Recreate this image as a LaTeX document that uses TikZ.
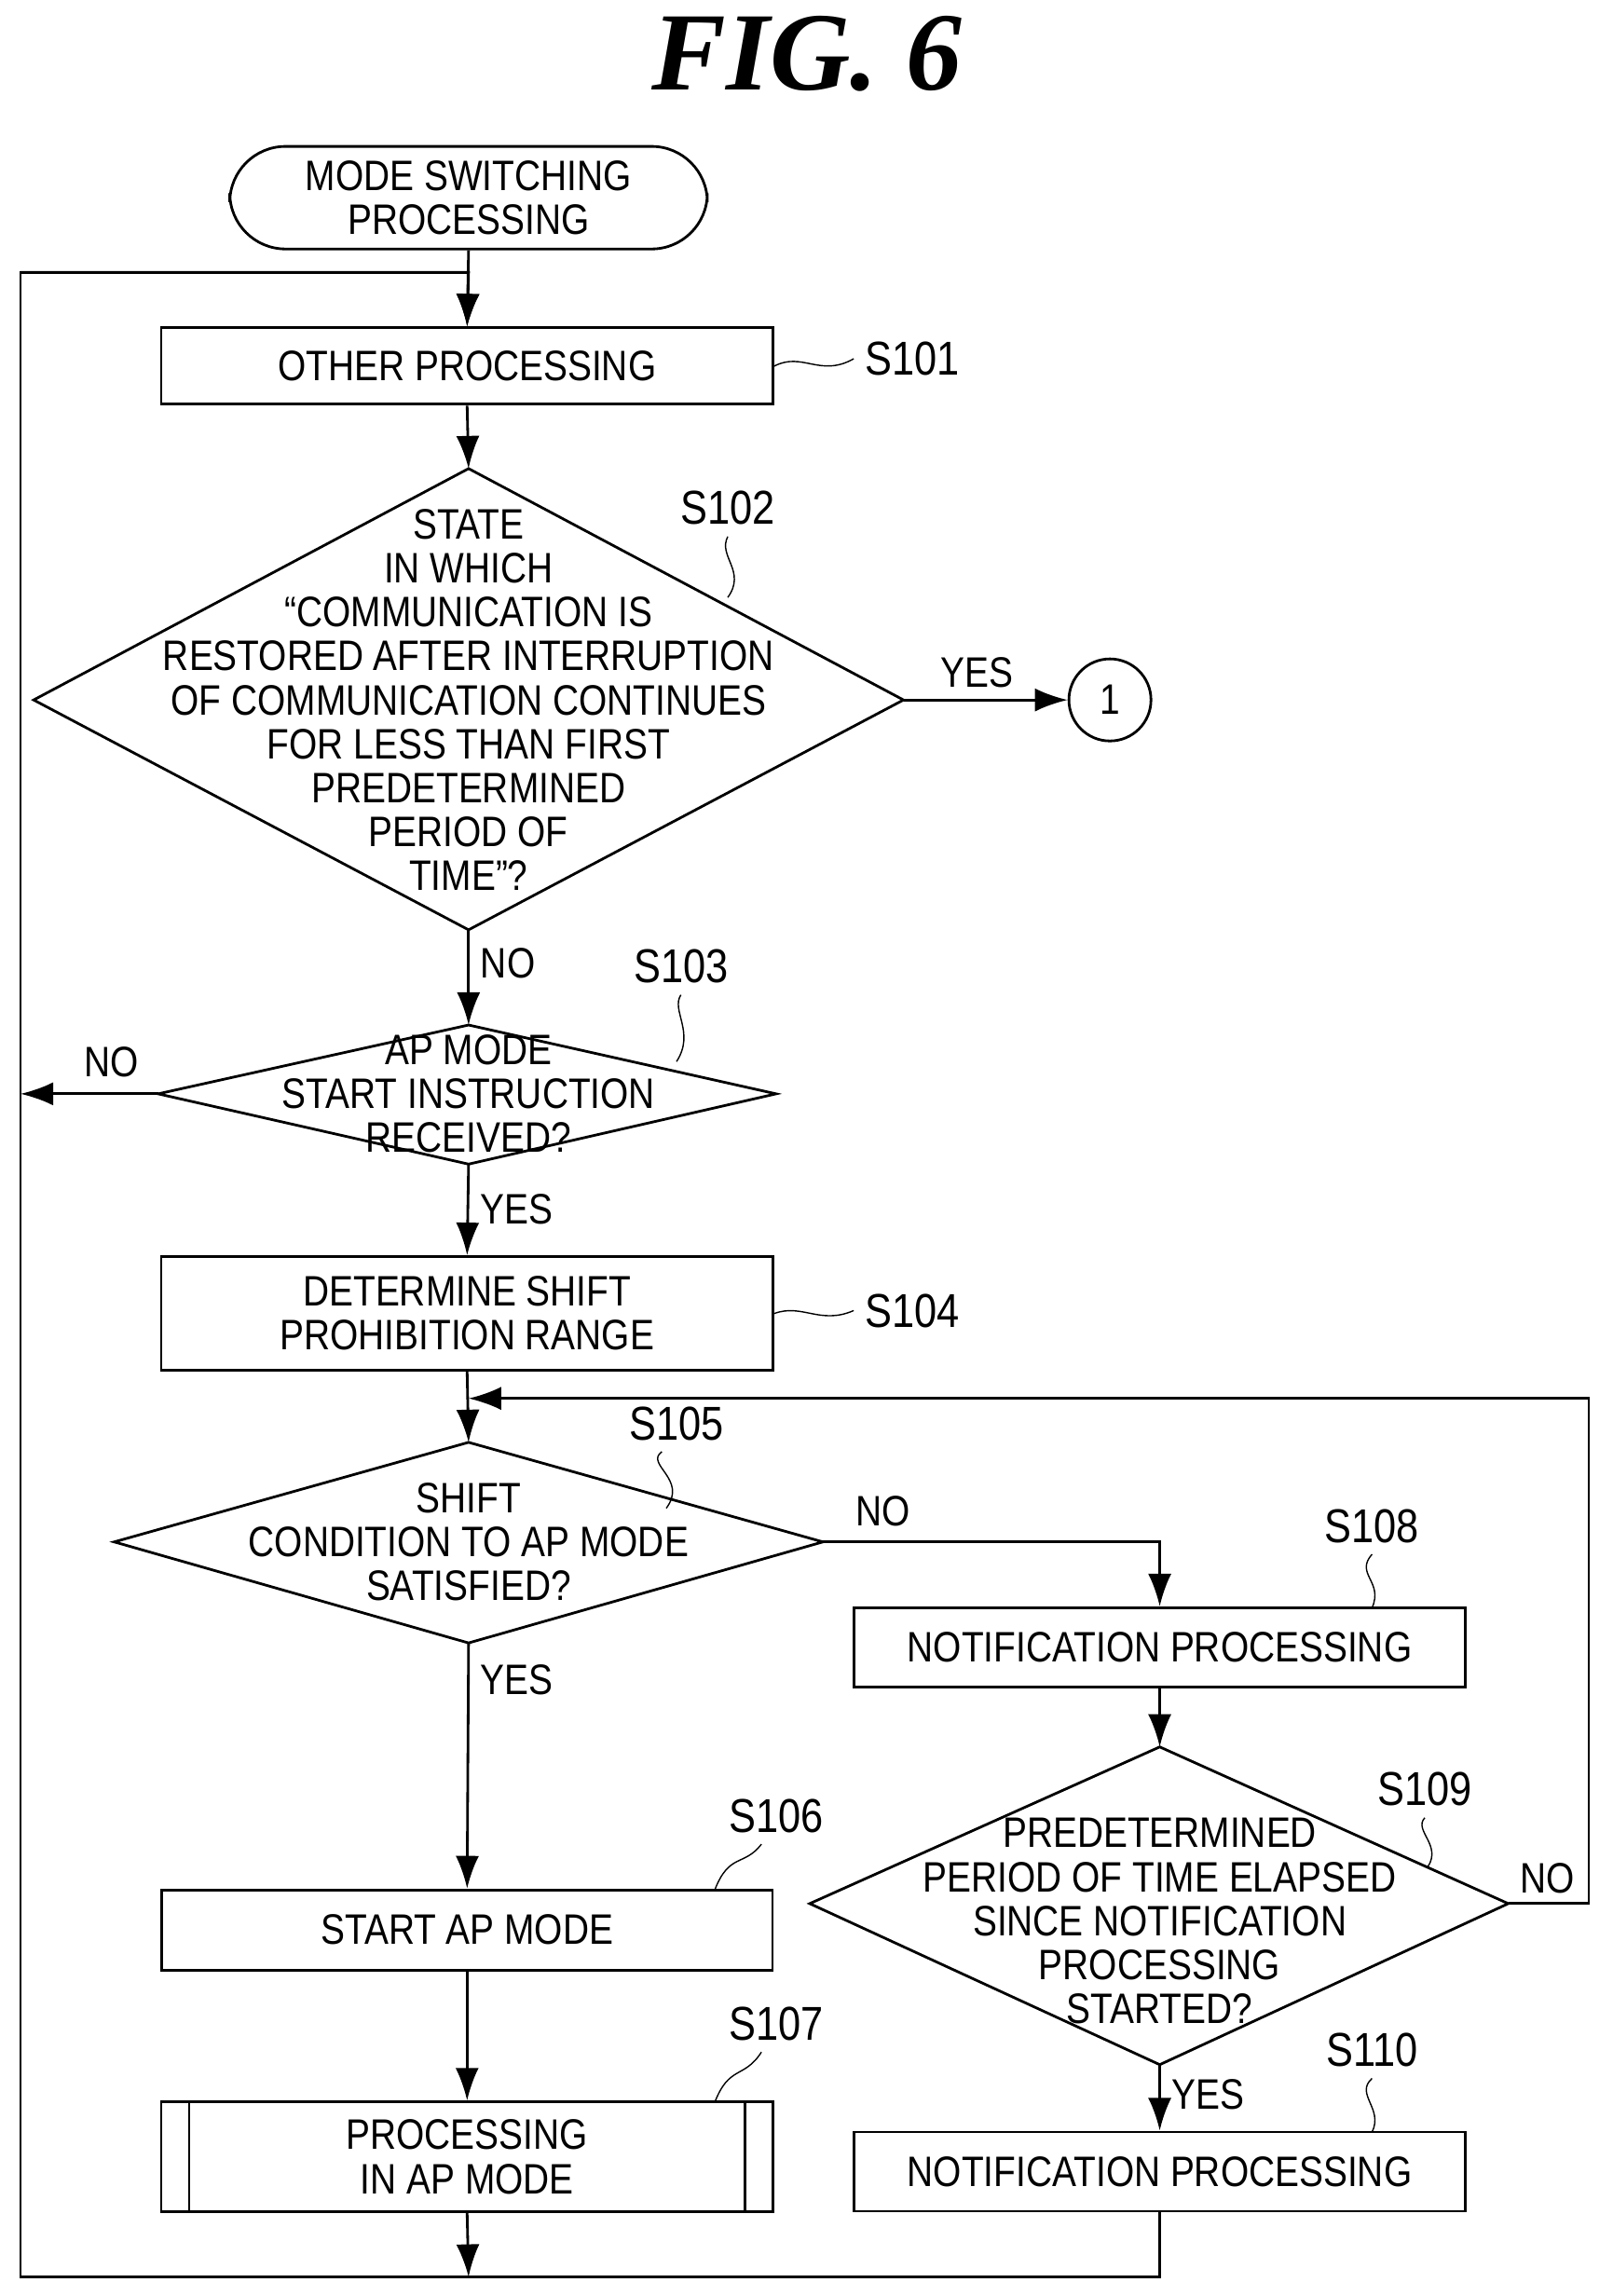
\documentclass[tikz,border=0pt]{standalone}
\usepackage{fontspec}
\setmainfont{Liberation Sans}[FakeStretch=0.85]
\newfontfamily\titlefont{Liberation Serif}
\usetikzlibrary{arrows.meta, positioning, calc, shapes.geometric}

\begin{document}
\begin{tikzpicture}[
  x=0.015695cm, y=-0.015695cm,
  font=\fontsize{13}{13.4}\selectfont,
  box/.style = {draw, thick, align=center, inner sep=0pt},
  arrow/.style = {thick, -{Latex[length=3.5mm, width=2.5mm]}},
  line/.style = {thick},
  tag/.style = {font=\fontsize{14.5}{15}\selectfont},
  squig/.style = {thin}
]
  \useasboundingbox (0,0) rectangle (1101,1568);

  % Title
  \node[font=\titlefont\bfseries\itshape\fontsize{34}{36}\selectfont] (title) at (551,37) {FIG. 6};

  % Start
  \node[draw, thick, rounded corners=17pt, minimum width=5.12cm, minimum height=1.1cm, align=center] (start) at (320,135) {MODE SWITCHING\\PROCESSING};

  % Steps
  \node[box, minimum width=6.56cm, minimum height=0.82cm] (s101) at (319,250) {OTHER PROCESSING};
  \draw[thick] (23,478) -- (320,320) -- (617,478) -- (320,635) -- cycle;
  \node[align=center] (s102) at (320,478) {STATE\\IN WHICH\\``COMMUNICATION IS\\RESTORED AFTER INTERRUPTION\\OF COMMUNICATION CONTINUES\\FOR LESS THAN FIRST\\PREDETERMINED\\PERIOD OF\\TIME''?};
  \node[draw, thick, circle, minimum size=0.88cm, inner sep=0pt] (c1) at (758,478) {1};

  \draw[thick] (108,747) -- (320,700) -- (530,747) -- (320,795) -- cycle;
  \node[align=center] (s103) at (320,747) {AP MODE\\START INSTRUCTION\\RECEIVED?};

  \node[box, minimum width=6.56cm, minimum height=1.22cm] (s104) at (319,897) {DETERMINE SHIFT\\PROHIBITION RANGE};

  \draw[thick] (78,1053) -- (320,985) -- (562,1053) -- (320,1122) -- cycle;
  \node[align=center] (s105) at (320,1053) {SHIFT\\CONDITION TO AP MODE\\SATISFIED?};

  \node[box, minimum width=6.55cm, minimum height=0.86cm] (s106) at (319,1318) {START AP MODE};
  \node[box, minimum width=6.56cm, minimum height=1.18cm] (s107) at (319,1473) {PROCESSING\\IN AP MODE};
  \draw[line] ($(s107.north west)+(20,0)$) -- ($(s107.south west)+(20,0)$);
  \draw[line] ($(s107.north east)+(-20,0)$) -- ($(s107.south east)+(-20,0)$);

  \node[box, minimum width=6.55cm, minimum height=0.85cm] (s108) at (792,1125) {NOTIFICATION PROCESSING};
  \draw[thick] (553,1300) -- (792,1193) -- (1030,1300) -- (792,1410) -- cycle;
  \node[align=center] (s109) at (792,1312) {PREDETERMINED\\PERIOD OF TIME ELAPSED\\SINCE NOTIFICATION\\PROCESSING\\STARTED?};
  \node[box, minimum width=6.55cm, minimum height=0.85cm] (s110) at (792,1483) {NOTIFICATION PROCESSING};

  % Junctions
  \coordinate (top) at (320,186);
  \coordinate (lefttop) at (14,186);
  \coordinate (leftbot) at (14,1555);
  \coordinate (bot) at (320,1555);
  \coordinate (join) at (320,955);
  \coordinate (s102b) at (320,635);
  \coordinate (s103l) at (108,747);
  \coordinate (s105r) at (562,1053);
  \coordinate (s109r) at (1030,1300);
  \coordinate (s109b) at (792,1410);

  % Connectors
  \draw[arrow] (start.south) -- (s101.north);
  \draw[arrow] (s101.south) -- (320,320);
  \draw[arrow] (617,478) -- node[above, pos=0.45] {YES} (c1.west);
  \draw[arrow] (s102b) -- node[right, pos=0.35] {NO} (320,700);
  \draw[arrow] (s103l) -- (14,747);
  \node (no103) at (76,725) {NO};
  \draw[arrow] (320,795) -- node[right, pos=0.5] {YES} (s104.north);
  \draw[arrow] (s104.south) -- (320,985);
  \draw[arrow] (320,1122) -- node[right, pos=0.15] {YES} (s106.north);
  \draw[arrow] (s106.south) -- (s107.north);
  \draw[arrow] (s107.south) -- (bot);
  \draw[arrow] (s105r) -| (s108.north);
  \node (no105) at (603,1032) {NO};
  \draw[arrow] (s108.south) -- (792,1193);
  \draw[arrow] (s109b) -- node[right, pos=0.45] {YES} (s110.north);
  \draw[arrow] (s109r) -- (1085,1300) |- (join);
  \node (no109) at (1057,1283) {NO};
  \draw[line] (s110.south) |- (leftbot) -- (lefttop) -- (top);
  \draw[arrow] (lefttop) -- (top) -- (s101.north);

  % Step labels
  \node[tag, anchor=west] (t101) at (583,245) {S101};
  \draw[squig] (s101.east) .. controls (548,240) and (560,258) .. (t101.west);
  \node[tag] (t102) at (497,347) {S102};
  \draw[squig] (t102.south) .. controls (490,380) and (510,390) .. (497,408);
  \node[tag] (t103) at (465,660) {S103};
  \draw[squig] (t103.south) .. controls (458,690) and (475,705) .. (462,725);
  \node[tag, anchor=west] (t104) at (583,895) {S104};
  \draw[squig] (s104.east) .. controls (548,890) and (560,905) .. (t104.west);
  \node[tag] (t105) at (462,972) {S105};
  \draw[squig] ($(t105.south)+(-10,0)$) .. controls (440,1000) and (470,1010) .. (455,1030);
  \node[tag] (t106) at (530,1240) {S106};
  \draw[squig] ($(t106.south)+(-10,0)$) .. controls (508,1275) and (498,1265) .. (488,1291);
  \node[tag] (t107) at (530,1382) {S107};
  \draw[squig] ($(t107.south)+(-10,0)$) .. controls (508,1420) and (498,1410) .. (488,1436);
  \node[tag] (t108) at (937,1042) {S108};
  \draw[squig] (t108.south) .. controls (925,1075) and (945,1080) .. (937,1098);
  \node[tag] (t109) at (973,1222) {S109};
  \draw[squig] (t109.south) .. controls (965,1250) and (985,1260) .. (975,1275);
  \node[tag] (t110) at (937,1400) {S110};
  \draw[squig] (t110.south) .. controls (925,1430) and (945,1440) .. (937,1456);
\end{tikzpicture}
\end{document}
